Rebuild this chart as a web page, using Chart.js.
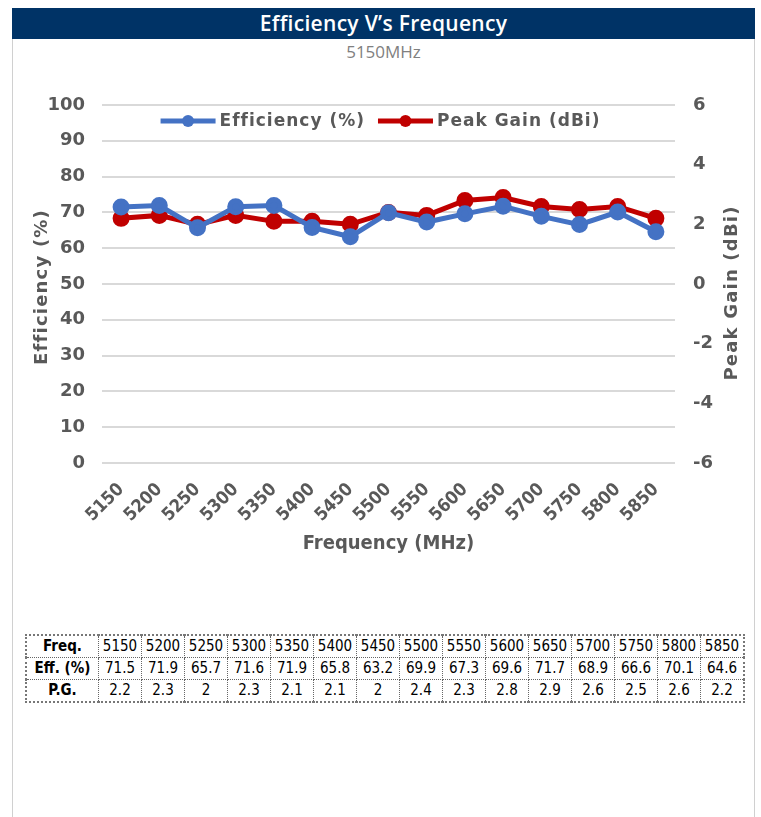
<!DOCTYPE html>
<html>
<head>
<meta charset="utf-8">
<title>Efficiency V's Frequency</title>
<script src="https://cdn.jsdelivr.net/npm/chart.js@4.4.0/dist/chart.umd.min.js"></script>
<style>
  body { margin: 0; background: #fff; width: 761px; height: 817px; position: relative; overflow: hidden; font-family: 'Open Sans', sans-serif; }
  #frame { position: absolute; left: 12px; top: 8px; width: 741px; height: 830px; border-left: 1px solid #d0d0d0; border-right: 1px solid #d0d0d0; }
  #head { position: absolute; left: 12px; top: 8px; width: 743px; height: 31px; background: #003366; color: #fff; font-size: 21px; font-weight: 600; text-align: center; line-height: 31px; letter-spacing: 0.3px; }
  #sub { position: absolute; left: 12px; top: 40px; width: 743px; text-align: center; color: #808080; font-size: 17px; line-height: 24px; }
  #wrap { position: absolute; left: 0; top: 0; width: 761px; height: 570px; }
  #tbl { position: absolute; left: 25px; top: 634px; border-collapse: collapse; border: 2px dotted #777; font-family: 'DejaVu Sans Condensed', sans-serif; font-size: 15px; color: #000; }
  #tbl td { border: 1px dotted #666; width: 42px; height: 21px; padding: 0; text-align: center; line-height: 21px; }
  #tbl td.h { width: 71px; font-weight: bold; }
</style>
</head>
<body>
<div id="frame"></div>
<div id="head">Efficiency V’s Frequency</div>
<div id="sub">5150MHz</div>
<div id="wrap"><canvas id="myChart" width="761" height="570"></canvas></div>
<table id="tbl"></table>

<script>
let freqs = ['5150', '5200', '5250', '5300', '5350', '5400', '5450', '5500', '5550', '5600', '5650', '5700', '5750', '5800', '5850'];
let efficiency = [71.5, 71.9, 65.7, 71.6, 71.9, 65.8, 63.2, 69.9, 67.3, 69.6, 71.7, 68.9, 66.6, 70.1, 64.6];
let peakGain = [2.2, 2.3, 2, 2.3, 2.1, 2.1, 2, 2.4, 2.3, 2.8, 2.9, 2.6, 2.5, 2.6, 2.2];
let rowNames = ['Freq.', 'Eff. (%)', 'P.G.'];

let grey = '#595959';

// build the table under the chart
function renderTable() {
  let table = document.getElementById('tbl');
  let rows = [freqs, efficiency, peakGain];
  for (let r = 0; r < rows.length; r++) {
    let tr = document.createElement('tr');
    let th = document.createElement('td');
    th.className = 'h';
    th.textContent = rowNames[r];
    tr.appendChild(th);
    for (let i = 0; i < rows[r].length; i++) {
      let td = document.createElement('td');
      td.textContent = rows[r][i];
      tr.appendChild(td);
    }
    table.appendChild(tr);
  }
}

// legend in the plot + the two axis titles
const extras = {
  id: 'extras',
  afterDraw(chart) {
    let ctx = chart.ctx;
    ctx.save();
    ctx.fillStyle = grey;
    ctx.textBaseline = 'middle';
    ctx.font = 'bold 17px "DejaVu Sans"';
    ctx.letterSpacing = '1px';

    let sets = chart.data.datasets;
    let lineLen = 55;
    let widths = sets.map(s => ctx.measureText(s.label).width);
    let total = 0;
    for (let i = 0; i < sets.length; i++) total += lineLen + 4 + widths[i];
    total += 13 * (sets.length - 1);
    let x = chart.width / 2 - total / 2;
    let y = 121;
    for (let i = 0; i < sets.length; i++) {
      ctx.strokeStyle = sets[i].borderColor;
      ctx.lineWidth = 5;
      ctx.beginPath();
      ctx.moveTo(x, y);
      ctx.lineTo(x + lineLen, y);
      ctx.stroke();
      ctx.fillStyle = sets[i].borderColor;
      ctx.beginPath();
      ctx.arc(x + lineLen / 2, y, 6, 0, Math.PI * 2);
      ctx.fill();
      ctx.fillStyle = grey;
      ctx.textAlign = 'left';
      ctx.fillText(sets[i].label, x + lineLen + 4, y + 1);
      x += lineLen + 4 + widths[i] + 13;
    }

    // y titles, both reading bottom to top
    ctx.textAlign = 'center';
    ctx.font = 'bold 18px "DejaVu Sans"';
    ctx.letterSpacing = '1.2px';
    ctx.save();
    ctx.translate(42, 287);
    ctx.rotate(-Math.PI / 2);
    ctx.fillText('Efficiency (%)', 0, 0);
    ctx.restore();

    ctx.save();
    ctx.translate(732, 293);
    ctx.rotate(-Math.PI / 2);
    ctx.fillText('Peak Gain (dBi)', 0, 0);
    ctx.restore();

    ctx.restore();
  }
};

function renderChart() {
  let canvasChart = document.getElementById('myChart');
  let config = {
    type: 'line',
    data: {
      labels: freqs,
      datasets: [{
        label: 'Efficiency (%)',
        data: efficiency,
        yAxisID: 'y',
        borderColor: '#4472C4',
        backgroundColor: '#4472C4',
        borderWidth: 5,
        pointRadius: 6,
        pointHoverRadius: 6,
        tension: 0
      },
      {
        label: 'Peak Gain (dBi)',
        data: peakGain,
        yAxisID: 'y1',
        borderColor: '#C00000',
        backgroundColor: '#C00000',
        borderWidth: 5,
        pointRadius: 6,
        pointHoverRadius: 6,
        tension: 0
      }]
    },
    options: {
      responsive: false,
      animation: false,
      layout: { padding: { top: 105, left: 0, right: 0, bottom: 0 } },
      plugins: {
        legend: { display: false },
        title: { display: false },
        tooltip: { enabled: false }
      },
      scales: {
        x: {
          offset: true,
          grid: { display: false, drawTicks: false },
          border: { display: false },
          ticks: {
            autoSkip: false,
            minRotation: 45,
            maxRotation: 45,
            padding: 16,
            color: grey,
            font: { family: '"DejaVu Sans Condensed", "DejaVu Sans"', size: 18, weight: 'bold' }
          },
          title: {
            display: true,
            text: 'Frequency (MHz)',
            color: grey,
            padding: { top: 0, bottom: 14 },
            font: { family: '"DejaVu Sans Condensed", "DejaVu Sans"', size: 20, weight: 'bold' }
          },
          afterFit: s => { s.height = 107; }
        },
        y: {
          position: 'left',
          min: 0,
          max: 100,
          ticks: {
            stepSize: 10,
            padding: 17,
            color: grey,
            font: { family: '"DejaVu Sans"', size: 18, weight: 'bold' }
          },
          grid: { color: '#d9d9d9', lineWidth: 2, drawTicks: false },
          border: { display: false },
          afterFit: s => { s.width = 102; }
        },
        y1: {
          position: 'right',
          min: -6,
          max: 6,
          ticks: {
            stepSize: 2,
            padding: 18,
            color: grey,
            font: { family: '"DejaVu Sans"', size: 18, weight: 'bold' }
          },
          grid: { display: false, drawTicks: false },
          border: { display: false },
          afterFit: s => { s.width = 86; }
        }
      }
    },
    plugins: [extras]
  };
  let chart = new Chart(canvasChart, config);
}

renderTable();
renderChart();
</script>
</body>
</html>
